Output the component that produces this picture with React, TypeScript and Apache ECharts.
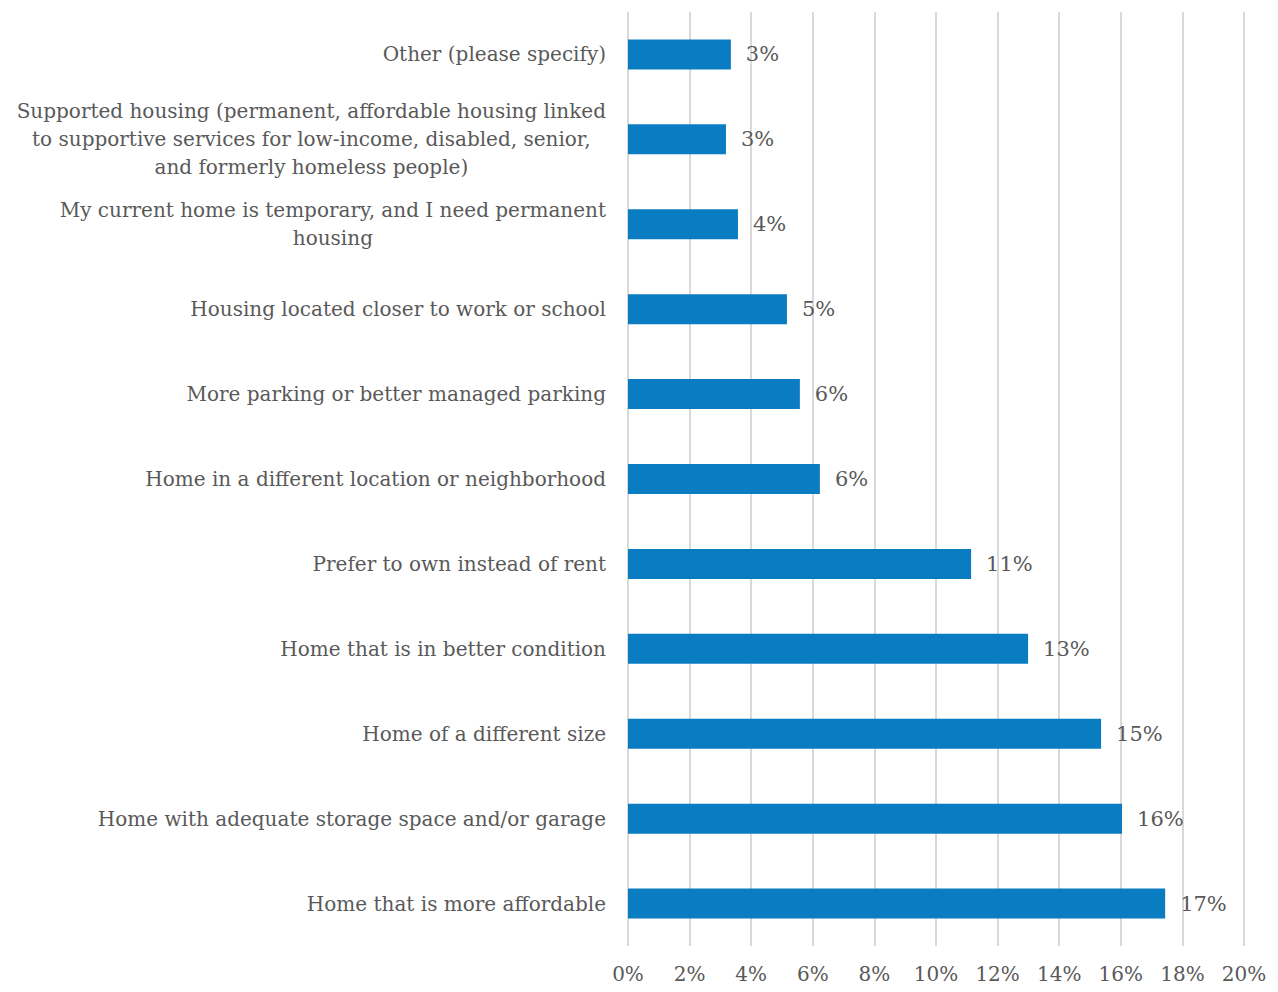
import React, { useEffect, useRef } from "react";
import * as echarts from "echarts";

const categories = [
  "Other (please specify)",
  "Supported housing (permanent, affordable housing linked\nto supportive services for low-income, disabled, senior,\nand formerly homeless people)",
  "My current home is temporary, and I need permanent\nhousing",
  "Housing located closer to work or school",
  "More parking or better managed parking",
  "Home in a different location or neighborhood",
  "Prefer to own instead of rent",
  "Home that is in better condition",
  "Home of a different size",
  "Home with adequate storage space and/or garage",
  "Home that is more affordable",
];
const values = [3.34, 3.18, 3.57, 5.16, 5.58, 6.23, 11.14, 12.99, 15.36, 16.04, 17.44];
const xTicks = { min: 0, max: 20, interval: 2 };

const FONT = "'DejaVu Serif', serif";
const TEXT = "#595959";

export default function App() {
  const ref = useRef<HTMLDivElement>(null);
  useEffect(() => {
    if (!ref.current) return;
    const chart = echarts.init(ref.current, null, { renderer: "svg" });
    chart.setOption({
      animation: false,
      backgroundColor: "#ffffff",
      grid: { left: 628, right: 34, top: 12, bottom: 46, containLabel: false },
      xAxis: {
        type: "value",
        min: xTicks.min,
        max: xTicks.max,
        interval: xTicks.interval,
        axisLine: { show: false },
        axisTick: { show: false },
        splitLine: { show: true, lineStyle: { color: "#d9d9d9", width: 2 } },
        axisLabel: {
          formatter: (v: number) => `${v}%`,
          color: TEXT,
          fontFamily: FONT,
          fontSize: 20,
          margin: 18,
        },
      },
      yAxis: {
        type: "category",
        data: categories,
        inverse: true,
        axisLine: { show: false },
        axisTick: { show: false },
        axisLabel: {
          align: "right",
          margin: 22,
          formatter: (v: string) =>
            v
              .split("\n")
              .map((l) => `{c|${l}}`)
              .join("\n"),
          rich: {
            c: {
              align: "center",
              color: TEXT,
              fontFamily: FONT,
              fontSize: 20,
              lineHeight: 28,
            },
          },
        },
      },
      series: [
        {
          type: "bar",
          data: values,
          barWidth: 30,
          itemStyle: { color: "#0A7CC1" },
          label: {
            show: true,
            position: "right",
            distance: 15,
            formatter: (p: any) => `${Math.round(p.value)}%`,
            color: TEXT,
            fontFamily: FONT,
            fontSize: 21,
          },
        },
      ],
    });
    return () => chart.dispose();
  }, []);
  return <div ref={ref} style={{ width: 1278, height: 992, margin: -8 }} />;
}
